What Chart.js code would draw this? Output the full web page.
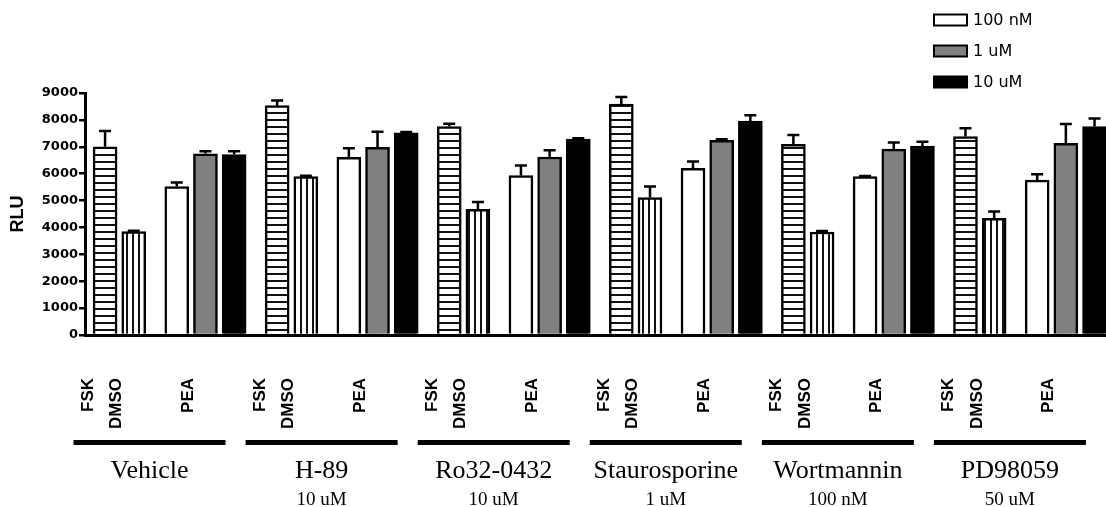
<!DOCTYPE html>
<html>
<head>
<meta charset="utf-8">
<script src="https://cdn.jsdelivr.net/npm/chart.js@4.4.0/dist/chart.umd.min.js"></script>
<style>
  html, body { margin: 0; padding: 0; background: #fff; }
  #wrap { width: 1106px; height: 507px; }
</style>
</head>
<body>
<div id="wrap"><canvas id="rluChart"></canvas></div>
<script>
// treatment groups and the labels under each group
const groups = ['Vehicle', 'H-89', 'Ro32-0432', 'Staurosporine', 'Wortmannin', 'PD98059'];
const groupDoses = ['', '10 uM', '10 uM', '1 uM', '100 nM', '50 uM'];
const subLabels = ['FSK', 'DMSO', 'PEA'];
const seriesNames = ['FSK', 'DMSO', '100 nM', '1 uM', '10 uM'];

// RLU means and upper error (SEM) per group
const fsk       = [7000, 8530, 7750, 8590, 7090, 7380];
const fskErr    = [590, 190, 110, 260, 350, 310];
const dmso      = [3850, 5890, 4670, 5110, 3830, 4340];
const dmsoErr   = [30, 30, 280, 410, 40, 250];
const pea100n   = [5520, 6610, 5930, 6200, 5890, 5760];
const pea100nErr= [150, 335, 370, 250, 20, 220];
const pea1u     = [6740, 6980, 6620, 7240, 6910, 7130];
const pea1uErr  = [90, 580, 250, 40, 250, 720];
const pea10u    = [6710, 7520, 7290, 7960, 7030, 7750];
const pea10uErr = [120, 30, 30, 210, 160, 300];

const yTicks = [0, 1000, 2000, 3000, 4000, 5000, 6000, 7000, 8000, 9000];

// layout of the slots inside one group (x units)
const slotsPerGroup = 6;
const slotOffsets = [0, 1, 2.5, 3.5, 4.5];
const subLabelSlots = [0, 1, 3.5];

const ctx = document.getElementById('rluChart').getContext('2d');

function stripes(vertical) {
  const c = document.createElement('canvas');
  c.width = vertical ? 6 : 1;
  c.height = vertical ? 1 : 7;
  const g = c.getContext('2d');
  g.fillStyle = '#fff';
  g.fillRect(0, 0, c.width, c.height);
  g.fillStyle = '#111';
  if (vertical) g.fillRect(0, 0, 2, 1);
  else g.fillRect(0, 0, 1, 2);
  return ctx.createPattern(c, 'repeat');
}

const values = [fsk, dmso, pea100n, pea1u, pea10u];
const errors = [fskErr, dmsoErr, pea100nErr, pea1uErr, pea10uErr];
const fills = [stripes(false), stripes(true), '#ffffff', '#808080', '#000000'];

const datasets = values.map((vals, i) => ({
  label: seriesNames[i],
  data: vals.map((v, g) => ({ x: g * slotsPerGroup + slotOffsets[i], y: v })),
  errors: errors[i],
  backgroundColor: fills[i],
  borderColor: '#000',
  borderWidth: 2.5,
  barThickness: 24,
  grouped: false
}));

const errorBars = {
  id: 'errorBars',
  afterDatasetsDraw(chart) {
    const { ctx, scales: { y } } = chart;
    ctx.save();
    ctx.strokeStyle = '#000';
    ctx.lineWidth = 2.5;
    chart.data.datasets.forEach((ds, i) => {
      chart.getDatasetMeta(i).data.forEach((bar, j) => {
        const top = y.getPixelForValue(ds.data[j].y + ds.errors[j]);
        ctx.beginPath();
        ctx.moveTo(bar.x, bar.y);
        ctx.lineTo(bar.x, top);
        ctx.moveTo(bar.x - 6, top);
        ctx.lineTo(bar.x + 6, top);
        ctx.stroke();
      });
    });
    ctx.restore();
  }
};

const groupLabels = {
  id: 'groupLabels',
  afterDraw(chart) {
    const { ctx, scales: { x }, chartArea } = chart;
    const base = chartArea.bottom;
    ctx.save();
    ctx.fillStyle = '#000';
    groups.forEach((name, g) => {
      const start = g * slotsPerGroup;
      ctx.font = 'bold 17px "Liberation Sans", Arial, sans-serif';
      ctx.textAlign = 'right';
      ctx.textBaseline = 'middle';
      subLabels.forEach((lbl, k) => {
        ctx.save();
        ctx.translate(x.getPixelForValue(start + subLabelSlots[k] - 0.6), base + 43);
        ctx.rotate(-Math.PI / 2);
        ctx.fillText(lbl, 0, 0);
        ctx.restore();
      });
      const x1 = x.getPixelForValue(start - 1.1);
      const x2 = x.getPixelForValue(start + 4.2);
      ctx.fillRect(x1, base + 105, x2 - x1, 5);
      const mid = (x1 + x2) / 2;
      ctx.textAlign = 'center';
      ctx.textBaseline = 'alphabetic';
      ctx.font = '26px "Liberation Serif", "Times New Roman", serif';
      ctx.fillText(name, mid, base + 143);
      ctx.font = '19px "Liberation Serif", "Times New Roman", serif';
      ctx.fillText(groupDoses[g], mid, base + 170);
    });
    ctx.restore();
  }
};

// legend for the three PEA doses only
const doseLegend = {
  id: 'doseLegend',
  afterDraw(chart) {
    const { ctx } = chart;
    ctx.save();
    ctx.font = '16px "DejaVu Sans", sans-serif';
    ctx.textAlign = 'left';
    ctx.textBaseline = 'middle';
    chart.data.datasets.slice(2).forEach((ds, i) => {
      const cy = 20 + i * 31;
      ctx.fillStyle = ds.backgroundColor;
      ctx.fillRect(934, cy - 5.5, 33, 11);
      ctx.strokeStyle = '#000';
      ctx.lineWidth = 2;
      ctx.strokeRect(934, cy - 5.5, 33, 11);
      ctx.fillStyle = '#000';
      ctx.fillText(ds.label, 973, cy + 1);
    });
    ctx.restore();
  }
};

new Chart(ctx, {
  type: 'bar',
  data: { datasets },
  options: {
    responsive: true,
    maintainAspectRatio: false,
    animation: false,
    layout: { padding: { top: 93, left: 0, right: 0, bottom: 0 } },
    plugins: { legend: { display: false }, tooltip: { enabled: false } },
    scales: {
      x: {
        type: 'linear',
        offset: false,
        min: -0.7,
        max: 34.9,
        ticks: { display: false },
        grid: { drawOnChartArea: false, drawTicks: false },
        border: { color: '#000', width: 3 },
        afterFit(s) { s.height = 172; }
      },
      y: {
        min: 0,
        max: 9000,
        afterBuildTicks(s) { s.ticks = yTicks.map(v => ({ value: v })); },
        ticks: {
          color: '#000',
          padding: 1,
          callback: v => String(v),
          font: { family: '"DejaVu Sans", sans-serif', weight: 'bold', size: 13 }
        },
        grid: { drawOnChartArea: false, tickLength: 6, color: '#000', lineWidth: 2.5 },
        border: { color: '#000', width: 3 },
        title: {
          display: true,
          text: 'RLU',
          color: '#000',
          padding: { top: 7 },
          font: { family: '"Liberation Sans", Arial, sans-serif', weight: 'bold', size: 18 }
        },
        afterFit(s) { s.width = 85; }
      }
    }
  },
  plugins: [errorBars, groupLabels, doseLegend]
});
</script>
</body>
</html>
